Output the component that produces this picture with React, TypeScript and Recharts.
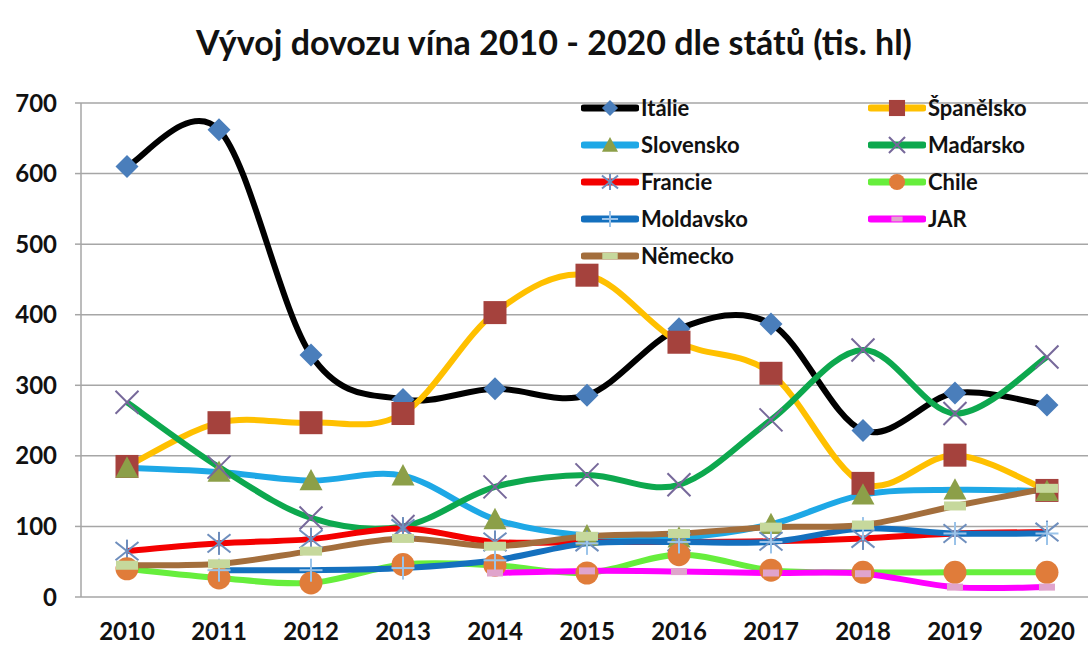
import React from "react";
import { LineChart, Line, XAxis, YAxis, CartesianGrid, Legend } from "recharts";

const YEARS = [2010, 2011, 2012, 2013, 2014, 2015, 2016, 2017, 2018, 2019, 2020];
const Y_TICKS = [0, 100, 200, 300, 400, 500, 600, 700];
const BOUNDARY_TICKS = [2009.5, 2010.5, 2011.5, 2012.5, 2013.5, 2014.5, 2015.5, 2016.5, 2017.5, 2018.5, 2019.5];

const ITALIE = [610, 662, 343, 280, 295, 286, 380, 387, 236, 289, 272];
const SPANELSKO = [185, 247, 247, 260, 403, 456, 361, 317, 161, 201, 151];
const SLOVENSKO = [183, 177, 165, 172, 110, 87, 84, 103, 145, 152, 150];
const MADARSKO = [276, 184, 112, 100, 156, 173, 159, 251, 350, 260, 340];
const FRANCIE = [65, 76, 82, 97, 78, 78, 78, 79, 83, 90, 92];
const CHILE = [40, 27, 20, 46, 45, 34, 60, 38, 35, 35, 35];
const MOLDAVSKO = [null, 38, 38, 41, 52, 76, 78, 78, 97, 90, 90];
const JAR = [null, null, null, null, 34, 37, 36, 34, 33, 14, 14];
const NEMECKO = [45, 47, 65, 83, 72, 86, 90, 99, 102, 129, 154];

const FONT = "Lato, 'Open Sans', sans-serif";

type Kind = "diamond" | "square" | "triangle" | "x" | "asterisk" | "circle" | "plus" | "dash" | "wideDash";

const SERIES: { key: string; name: string; values: (number | null)[]; color: string; marker: Kind; mcolor: string }[] = [
  { key: "italie", name: "Itálie", values: ITALIE, color: "#000000", marker: "diamond", mcolor: "#4A7EBB" },
  { key: "spanelsko", name: "Španělsko", values: SPANELSKO, color: "#FFC000", marker: "square", mcolor: "#A5423D" },
  { key: "slovensko", name: "Slovensko", values: SLOVENSKO, color: "#1EA8E6", marker: "triangle", mcolor: "#8C9F48" },
  { key: "madarsko", name: "Maďarsko", values: MADARSKO, color: "#0DA84E", marker: "x", mcolor: "#76689A" },
  { key: "francie", name: "Francie", values: FRANCIE, color: "#F40000", marker: "asterisk", mcolor: "#6E8EBD" },
  { key: "chile", name: "Chile", values: CHILE, color: "#66EE3C", marker: "circle", mcolor: "#E07C3A" },
  { key: "moldavsko", name: "Moldavsko", values: MOLDAVSKO, color: "#1470BE", marker: "plus", mcolor: "#9BC4EA" },
  { key: "jar", name: "JAR", values: JAR, color: "#FF00FF", marker: "dash", mcolor: "#E0A4CC" },
  { key: "nemecko", name: "Německo", values: NEMECKO, color: "#A36E3C", marker: "wideDash", mcolor: "#C6D89C" },
];

const data = YEARS.map((year, i) => {
  const row: Record<string, number | null> = { year };
  SERIES.forEach((s) => (row[s.key] = s.values[i]));
  return row;
});

// Excel-like smoothed line (Catmull-Rom through every point)
const excelSmooth = (context: any) => {
  let pts: number[][] = [];
  return {
    areaStart() {},
    areaEnd() {},
    lineStart() {
      pts = [];
    },
    point(x: number, y: number) {
      pts.push([+x, +y]);
    },
    lineEnd() {
      const n = pts.length;
      if (!n) return;
      context.moveTo(pts[0][0], pts[0][1]);
      if (n === 1) {
        context.lineTo(pts[0][0], pts[0][1]);
        return;
      }
      for (let i = 0; i < n - 1; i++) {
        const p0 = pts[i - 1] || pts[i];
        const p1 = pts[i];
        const p2 = pts[i + 1];
        const p3 = pts[i + 2] || p2;
        context.bezierCurveTo(
          p1[0] + (p2[0] - p0[0]) / 6,
          p1[1] + (p2[1] - p0[1]) / 6,
          p2[0] - (p3[0] - p1[0]) / 6,
          p2[1] - (p3[1] - p1[1]) / 6,
          p2[0],
          p2[1]
        );
      }
    },
  };
};

function Marker({ kind, cx, cy, color, k = 1 }: { kind: Kind; cx: number; cy: number; color: string; k?: number }) {
  const r = 11.5 * k;
  switch (kind) {
    case "diamond":
      return <polygon points={`${cx},${cy - r} ${cx + r},${cy} ${cx},${cy + r} ${cx - r},${cy}`} fill={color} />;
    case "square":
      return <rect x={cx - r} y={cy - r} width={2 * r} height={2 * r} fill={color} />;
    case "triangle":
      return <polygon points={`${cx},${cy - r} ${cx + r},${cy + r * 0.85} ${cx - r},${cy + r * 0.85}`} fill={color} />;
    case "circle":
      return <circle cx={cx} cy={cy} r={r} fill={color} />;
    case "x":
      return (
        <g stroke={color} strokeWidth={2}>
          <line x1={cx - r} y1={cy - r} x2={cx + r} y2={cy + r} />
          <line x1={cx - r} y1={cy + r} x2={cx + r} y2={cy - r} />
        </g>
      );
    case "asterisk":
      return (
        <g stroke={color} strokeWidth={2}>
          <line x1={cx - r} y1={cy - r * 0.8} x2={cx + r} y2={cy + r * 0.8} />
          <line x1={cx - r} y1={cy + r * 0.8} x2={cx + r} y2={cy - r * 0.8} />
          <line x1={cx} y1={cy - r} x2={cx} y2={cy + r} />
        </g>
      );
    case "plus":
      return (
        <g stroke={color} strokeWidth={2}>
          <line x1={cx - r} y1={cy} x2={cx + r} y2={cy} />
          <line x1={cx} y1={cy - r} x2={cx} y2={cy + r} />
        </g>
      );
    case "dash":
      return <rect x={cx - 8 * k} y={cy - 3.5 * k} width={16 * k} height={7 * k} fill={color} />;
    case "wideDash":
      return <rect x={cx - 11 * k} y={cy - 4.5 * k} width={22 * k} height={9 * k} fill={color} />;
  }
  return null;
}

function renderLegend(props: any) {
  const payload = [...(props.payload || [])].sort(
    (a: any, b: any) =>
      SERIES.findIndex((s) => s.key === a.dataKey) - SERIES.findIndex((s) => s.key === b.dataKey)
  );
  return (
    <div style={{ display: "grid", gridTemplateColumns: "287px 200px", fontFamily: FONT, fontWeight: 700, fontSize: 22, color: "#111" }}>
      {payload.map((entry: any) => {
        const s = SERIES.find((x) => x.key === entry.dataKey)!;
        return (
          <div key={s.key} style={{ display: "flex", alignItems: "center", height: 37 }}>
            <svg width={58} height={22} style={{ marginRight: 2 }}>
              <line x1={3} y1={11} x2={55} y2={11} stroke={s.color} strokeWidth={7} strokeLinecap="round" />
              <Marker kind={s.marker} cx={29} cy={11} color={s.mcolor} k={0.7} />
            </svg>
            <span>{s.name}</span>
          </div>
        );
      })}
    </div>
  );
}

export default function App() {
  return (
    <div style={{ position: "absolute", left: 0, top: 0, width: 1088, height: 646, background: "#fff" }}>
      <div
        style={{
          position: "absolute",
          top: 20,
          left: 20,
          width: 1068,
          textAlign: "center",
          fontFamily: FONT,
          fontWeight: 700,
          fontSize: 34,
          color: "#111",
          lineHeight: "44px",
        }}
      >
        Vývoj dovozu vína 2010 - 2020 dle států (tis. hl)
      </div>
      <LineChart width={1088} height={646} data={data} margin={{ top: 103, right: 0, bottom: 0, left: 8 }}>
        <CartesianGrid horizontal vertical={false} stroke="#A6A6A6" strokeWidth={1.5} xAxisId="main" />
        <XAxis
          xAxisId="marks"
          dataKey="year"
          type="number"
          domain={[2009.5, 2020.446]}
          allowDataOverflow
          ticks={BOUNDARY_TICKS}
          tickFormatter={() => ""}
          height={0}
          tickSize={8}
          stroke="#A6A6A6"
          strokeWidth={1.5}
        />
        <XAxis
          xAxisId="main"
          dataKey="year"
          type="number"
          domain={[2009.5, 2020.446]}
          allowDataOverflow
          ticks={YEARS}
          axisLine={false}
          tickLine={false}
          height={49}
          tickMargin={20}
          tick={{ fill: "#111", fontFamily: FONT, fontWeight: 700, fontSize: 24 }}
        />
        <YAxis
          domain={[0, 700]}
          ticks={Y_TICKS}
          width={73}
          tickSize={6}
          tickMargin={18}
          stroke="#A6A6A6"
          strokeWidth={1.5}
          tick={{ fill: "#111", fontFamily: FONT, fontWeight: 700, fontSize: 24 }}
        />
        <Legend
          content={renderLegend}
          layout="horizontal"
          verticalAlign="middle"
          align="center"
          wrapperStyle={{ position: "absolute", top: 89, left: 581, width: 500 }}
        />
        {SERIES.map((s) => (
          <Line
            key={s.key}
            xAxisId="main"
            dataKey={s.key}
            name={s.name}
            type={excelSmooth as any}
            stroke={s.color}
            strokeWidth={6}
            isAnimationActive={false}
            activeDot={false}
            dot={(p: any) =>
              p.value == null || p.cx == null ? (
                <g key={`${s.key}-${p.index}`} />
              ) : (
                <Marker key={`${s.key}-${p.index}`} kind={s.marker} cx={p.cx} cy={p.cy} color={s.mcolor} />
              )
            }
          />
        ))}
      </LineChart>
    </div>
  );
}
